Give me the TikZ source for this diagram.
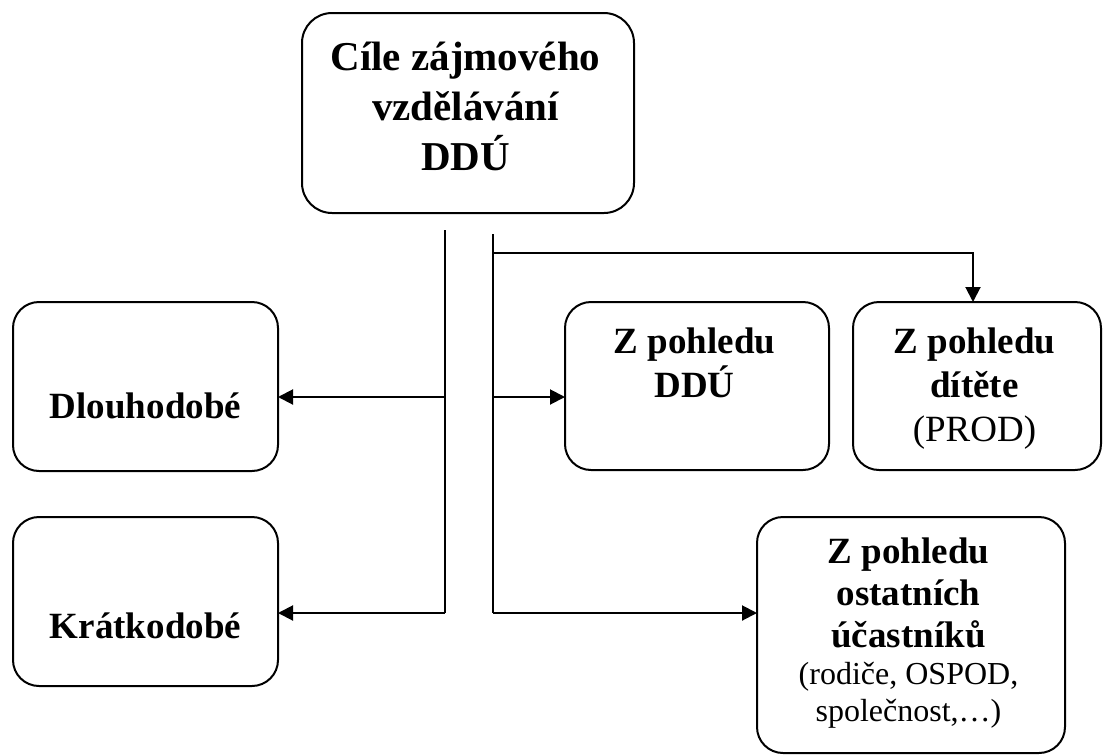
\documentclass[tikz,border=0pt]{standalone}
\usepackage{fontspec}
\setmainfont{Liberation Serif}
\usetikzlibrary{arrows.meta}

\tikzset{
  goalbox/.style={draw=black, line width=1pt, rounded corners=13pt, inner sep=0pt, outer sep=0pt},
  goaltext/.style={inner sep=0pt, align=center},
  arr/.style={line width=1pt, -{Triangle[length=7.5pt,width=7.5pt]}}
}

\begin{document}
\begin{tikzpicture}[x=0.5pt, y=-0.5pt]
\useasboundingbox (0,0) rectangle (1105,756);

% boxes
\node[goalbox, minimum width=166pt, minimum height=100pt, rounded corners=15pt] (top) at (468,113) {};
\node[goalbox, minimum width=132.5pt, minimum height=84.5pt] (dl) at (145.5,386.5) {};
\node[goalbox, minimum width=132.5pt, minimum height=84.5pt] (kr) at (145.5,601.5) {};
\node[goalbox, minimum width=132pt, minimum height=84pt] (ddu) at (697,386) {};
\node[goalbox, minimum width=124pt, minimum height=84pt] (prod) at (977,386) {};
\node[goalbox, minimum width=154pt, minimum height=118pt] (ost) at (911,635) {};

% texts
\node[goaltext, anchor=north] (toptxt) at ([yshift=-14.5pt]top.north) {
    \begin{minipage}{160pt}
    \centering\fontsize{20.5}{25}\selectfont\bfseries
    Cíle zájmového\\ vzdělávání\\ DDÚ
    \end{minipage}
};
\node[goaltext, anchor=base] (dltxt) at ([yshift=-58pt]dl.north) {\fontsize{18.5}{22}\selectfont\bfseries Dlouhodobé};
\node[goaltext, anchor=base] (krtxt) at ([yshift=-60.5pt]kr.north) {\fontsize{18.5}{22}\selectfont\bfseries Krátkodobé};
\node[goaltext, anchor=north] (ddutxt) at ([yshift=-12.75pt]ddu.north) {
    \begin{minipage}{125pt}
    \centering\fontsize{18.5}{22}\selectfont\bfseries
    Z pohledu\\ DDÚ
    \end{minipage}
};
\node[goaltext, anchor=north] (prodtxt) at ([yshift=-12.75pt]prod.north) {
    \begin{minipage}{120pt}
    \centering\fontsize{18.5}{22}\selectfont
    \textbf{Z pohledu}\\ \textbf{dítěte}\\ (PROD)
    \end{minipage}
};
\node[goaltext, anchor=north] (osttxt) at ([yshift=-10.25pt]ost.north) {
    \begin{minipage}{150pt}
    \centering\fontsize{18.5}{21}\selectfont\bfseries
    Z pohledu\\ ostatních\\ účastníků\par
    \fontsize{16}{18.5}\selectfont\mdseries
    (rodiče, OSPOD,\\ společnost,…)\par
    \end{minipage}
};

% connectors
\coordinate (lt) at (445,230);
\coordinate (lm) at (445,397);
\coordinate (lb) at (445,613);
\coordinate (rt) at (493,234);
\coordinate (rk) at (493,253);
\coordinate (rm) at (493,397);
\coordinate (rb) at (493,613);

\draw[line width=1pt] (lt) -- (lb);
\draw[line width=1pt] (rt) -- (rb);
\draw[arr] (lm) -- (lm -| dl.east);
\draw[arr] (lb) -- (lb -| kr.east);
\draw[arr] (rk) -| ([xshift=-2pt]prod.north);
\draw[arr] (rm) -- (rm -| ddu.west);
\draw[arr] (rb) -- (rb -| ost.west);
\end{tikzpicture}
\end{document}
